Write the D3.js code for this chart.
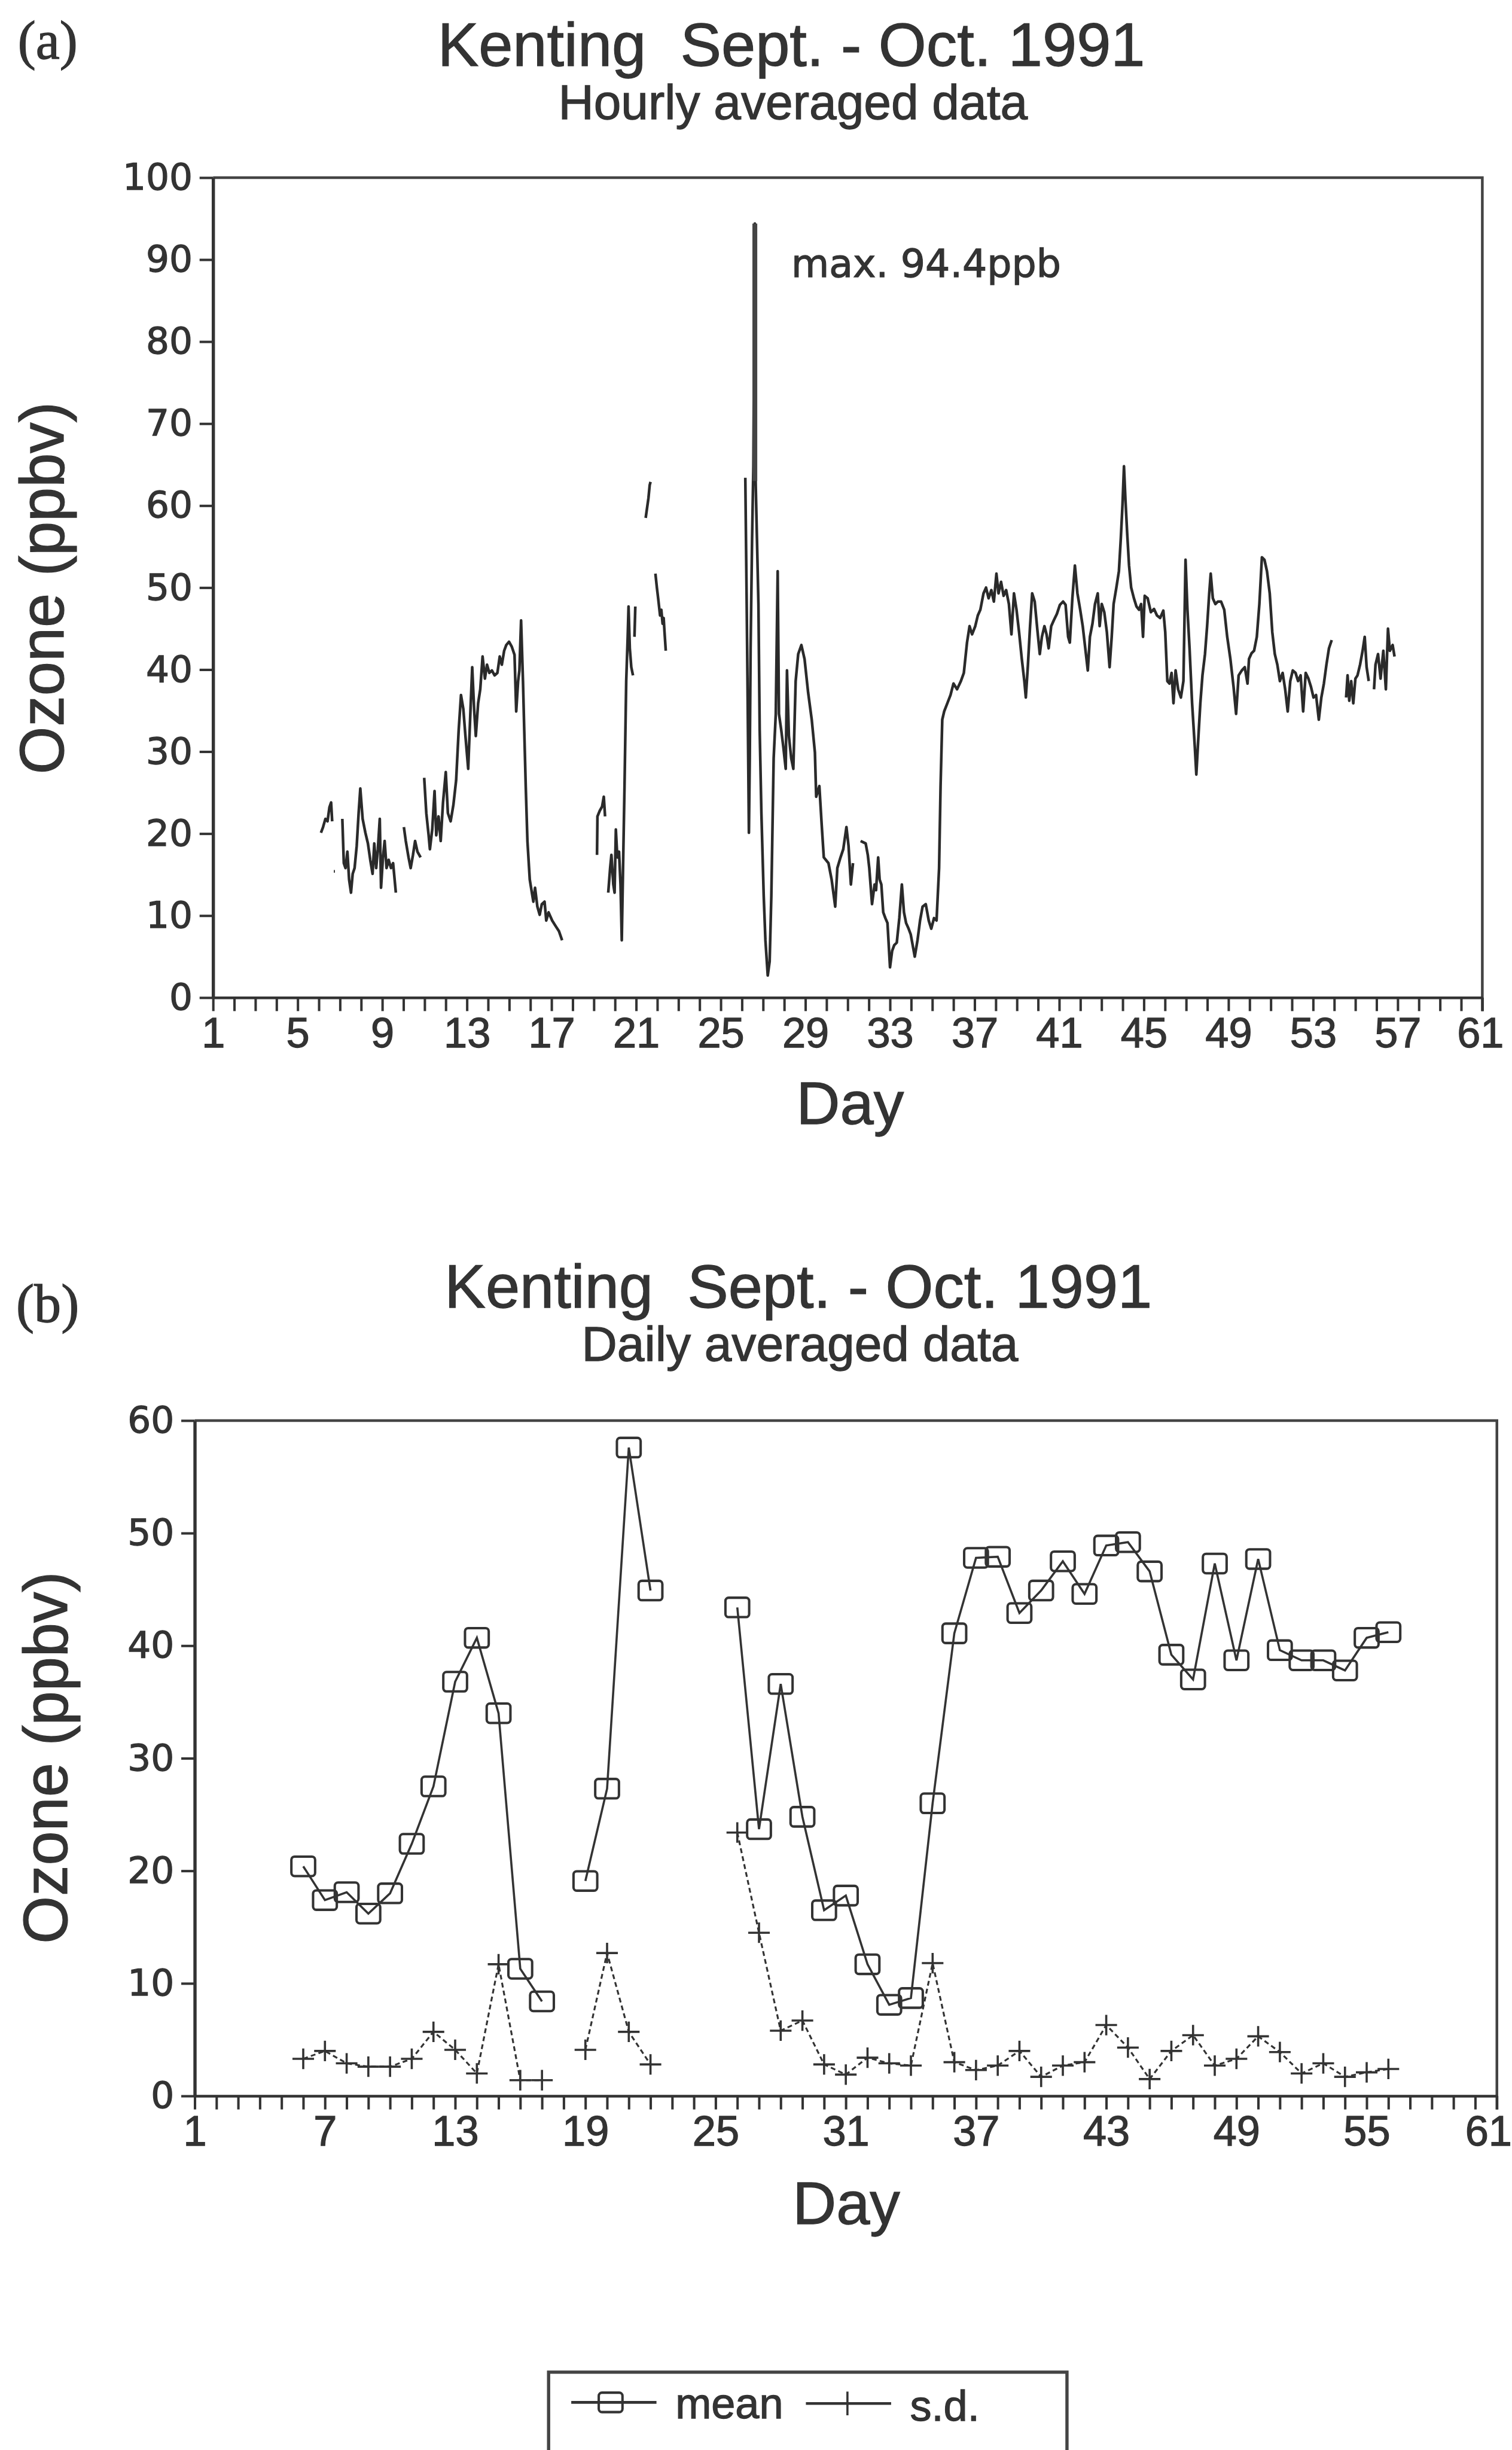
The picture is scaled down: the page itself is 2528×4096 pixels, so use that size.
<!DOCTYPE html>
<html>
<head>
<meta charset="utf-8">
<script src="https://cdn.jsdelivr.net/npm/d3@7"></script>
<style>
body{margin:0;background:#fff}
svg{display:block}
text{fill:#333;stroke:#333;stroke-width:1.4px}
</style>
</head>
<body>
<svg id="fig" width="2528" height="4096" viewBox="0 0 2803 4541"></svg>
<script>
// (a) hourly ozone, [day, ppbv]; null = break in the record
var hourly = [
 [6.10,20.1],[6.20,20.8],[6.31,21.8],[6.41,21.5],[6.50,23.2],[6.58,23.8],[6.63,21.5], null,
 [6.71,15.4],[6.76,15.4], null,
 [7.11,21.8],[7.18,16.4],[7.26,15.8],[7.35,17.8],[7.43,14.4],[7.52,12.8],[7.60,15.1],[7.69,15.8],[7.79,18.5],[7.88,22.5],
 [7.96,25.5],[8.07,21.8],[8.20,20.1],[8.32,18.8],[8.43,16.8],[8.54,15.1],[8.62,18.8],[8.71,15.8],[8.79,18.1],[8.88,21.8],
 [8.94,13.4],[9.03,17.1],[9.11,19.1],[9.20,15.8],[9.30,16.8],[9.41,15.8],[9.51,16.4],[9.64,12.8], null,
 [10.02,20.8],[10.11,19.1],[10.24,17.1],[10.34,15.8],[10.45,17.4],[10.55,19.1],[10.66,17.8],[10.81,17.1], null,
 [10.98,26.8],[11.08,22.5],[11.19,19.8],[11.25,18.1],[11.36,20.5],[11.47,25.2],[11.55,19.8],[11.66,22.1],[11.76,19.1],
 [11.87,23.8],[12.00,27.5],[12.10,22.5],[12.23,21.5],[12.36,23.5],[12.49,26.5],[12.61,32.6],[12.72,36.9],[12.83,35.2],
 [12.93,31.9],[13.06,27.9],[13.17,35.2],[13.25,40.3],[13.34,35.2],[13.42,31.9],[13.53,35.9],[13.63,37.6],[13.74,41.6],
 [13.85,38.9],[13.95,40.6],[14.06,39.6],[14.18,39.9],[14.31,39.3],[14.44,39.6],[14.55,41.6],[14.65,40.6],[14.76,42.3],
 [14.86,43.0],[14.99,43.4],[15.12,42.8],[15.25,41.8],[15.33,34.9],[15.42,38.6],[15.48,39.9],[15.56,46.0],[15.65,38.6],
 [15.71,32.6],[15.78,25.8],[15.86,19.1],[15.97,14.4],[16.07,12.8],[16.14,11.7],[16.22,13.4],[16.33,11.1],[16.44,10.1],
 [16.54,11.4],[16.67,11.7],[16.75,9.4],[16.86,10.4],[17.03,9.4],[17.20,8.7],[17.35,8.1],[17.50,7.0], null,
 [19.15,17.4],[19.17,22.1],[19.28,22.8],[19.39,23.3],[19.47,24.5],[19.53,22.1], null,
 [19.68,12.8],[19.77,15.8],[19.83,17.4],[19.92,13.8],[19.98,12.8],[20.04,20.5],[20.11,17.1],[20.19,17.8],[20.26,13.8],
 [20.32,7.0],[20.38,15.8],[20.45,25.8],[20.53,38.6],[20.60,44.0],[20.64,47.7],[20.70,42.6],[20.77,40.3],[20.85,39.3], null,
 [20.92,44.0],[20.96,47.7], null,
 [21.45,58.5],[21.52,59.8],[21.58,60.9],[21.64,62.5],[21.68,62.9], null,
 [21.91,51.7],[21.98,50.0],[22.04,48.7],[22.13,46.6],[22.19,47.3],[22.25,45.6],[22.30,46.3],[22.34,44.6],[22.40,42.3], null,
 [26.16,63.4],[26.22,49.3],[26.26,39.3],[26.33,20.1],[26.37,29.2],[26.41,42.6],[26.48,56.0],[26.54,64.8],[26.61,94.4],
 [26.65,62.8],[26.71,56.0],[26.78,48.0],[26.84,32.6],[26.92,22.5],[27.03,12.4],[27.11,7.0],[27.22,2.7],[27.31,4.4],
 [27.39,12.4],[27.50,29.2],[27.60,34.6],[27.69,52.0],[27.75,34.6],[27.86,32.6],[27.96,30.5],[28.07,27.9],[28.13,39.9],
 [28.22,31.9],[28.33,29.2],[28.43,27.9],[28.54,38.6],[28.66,41.9],[28.81,43.0],[28.96,41.3],[29.13,37.2],[29.30,33.9],
 [29.45,29.9],[29.51,24.5],[29.66,25.8],[29.77,21.1],[29.87,17.1],[30.09,16.4],[30.24,14.4],[30.41,11.1],[30.51,15.8],
 [30.66,17.1],[30.79,18.1],[30.94,20.8],[31.04,18.5],[31.15,13.8],[31.25,16.4], null,
 [31.61,19.1],[31.85,18.8],[31.95,17.4],[32.02,15.8],[32.15,11.4],[32.27,13.8],[32.34,13.1],[32.44,17.1],[32.51,14.4],
 [32.59,13.8],[32.68,10.4],[32.78,9.7],[32.88,9.1],[33.00,3.7],[33.10,5.7],[33.20,6.4],[33.32,6.7],[33.44,9.7],
 [33.56,13.8],[33.66,10.4],[33.76,9.1],[33.88,8.4],[33.98,7.7],[34.10,6.0],[34.17,5.0],[34.30,7.0],[34.42,9.4],
 [34.54,11.1],[34.69,11.4],[34.83,9.4],[34.95,8.4],[35.08,9.7],[35.20,9.4],[35.32,15.8],[35.39,25.8],[35.47,33.9],
 [35.56,34.9],[35.71,35.9],[35.86,36.9],[36.00,38.3],[36.17,37.6],[36.35,38.6],[36.49,39.6],[36.64,43.3],[36.76,45.3],
 [36.88,44.3],[37.03,45.3],[37.15,46.6],[37.27,47.3],[37.42,49.3],[37.54,50.0],[37.66,48.7],[37.79,49.7],[37.91,48.3],
 [38.03,51.7],[38.13,49.3],[38.25,50.7],[38.37,49.0],[38.49,49.7],[38.62,48.0],[38.74,44.3],[38.86,49.3],[38.98,47.3],
 [39.10,44.6],[39.23,41.3],[39.35,38.6],[39.42,36.6],[39.52,40.6],[39.62,45.3],[39.72,49.3],[39.84,48.3],[39.96,45.0],
 [40.08,41.9],[40.18,44.0],[40.30,45.3],[40.40,44.3],[40.50,42.6],[40.62,45.3],[40.74,46.0],[40.89,46.8],[41.03,47.9],
 [41.18,48.3],[41.30,47.9],[41.42,44.0],[41.50,43.3],[41.62,48.7],[41.74,52.7],[41.86,49.3],[41.99,47.3],[42.11,45.3],
 [42.23,42.6],[42.35,39.9],[42.45,44.0],[42.57,45.6],[42.69,48.0],[42.82,49.3],[42.91,45.3],[43.01,48.0],[43.13,47.0],
 [43.25,44.6],[43.38,40.3],[43.48,44.0],[43.57,48.0],[43.70,50.0],[43.82,52.0],[43.91,56.0],[43.99,60.1],[44.06,64.8],
 [44.13,60.7],[44.21,56.7],[44.30,52.7],[44.40,50.0],[44.53,48.7],[44.65,47.7],[44.77,47.3],[44.87,48.0],[44.96,44.0],
 [45.04,49.0],[45.18,48.7],[45.33,47.0],[45.48,47.4],[45.62,46.6],[45.77,46.3],[45.92,47.2],[46.01,44.6],[46.11,38.6],
 [46.21,38.3],[46.31,39.6],[46.40,35.9],[46.50,39.9],[46.62,37.6],[46.75,36.6],[46.87,38.6],[46.97,53.4],[47.06,47.3],
 [47.16,42.6],[47.28,35.9],[47.41,30.5],[47.48,27.2],[47.58,31.9],[47.67,35.9],[47.77,39.3],[47.89,41.9],[47.99,45.3],
 [48.09,49.3],[48.16,51.7],[48.26,48.7],[48.38,48.0],[48.50,48.3],[48.65,48.3],[48.80,47.3],[48.94,44.0],[49.09,41.3],
 [49.24,37.9],[49.36,34.6],[49.48,39.3],[49.63,39.9],[49.77,40.3],[49.90,38.3],[49.97,41.3],[50.09,42.0],[50.21,42.3],
 [50.34,44.0],[50.46,48.0],[50.58,53.7],[50.70,53.4],[50.82,52.0],[50.95,49.3],[51.07,44.6],[51.19,41.9],[51.31,40.6],
 [51.43,38.6],[51.56,39.6],[51.68,37.6],[51.80,34.9],[51.92,38.6],[52.04,39.9],[52.17,39.6],[52.29,38.6],[52.41,39.3],
 [52.53,34.9],[52.65,39.6],[52.78,38.9],[52.90,37.9],[53.02,36.6],[53.14,36.9],[53.27,33.9],[53.39,36.6],[53.51,38.3],
 [53.63,40.6],[53.75,42.6],[53.88,43.6], null,
 [54.56,36.6],[54.63,39.3],[54.71,36.2],[54.80,38.6],[54.90,35.9],[55.00,38.9],[55.10,39.3],[55.22,40.6],[55.34,42.3],
 [55.44,44.0],[55.53,40.3],[55.63,38.6], null,
 [55.88,37.6],[55.95,40.6],[56.07,41.9],[56.19,38.9],[56.32,42.3],[56.44,37.6],[56.54,45.0],[56.63,42.3],[56.76,43.0],
 [56.85,41.6]
];
var maxDay = 26.61, maxVal = 94.4, spikeBase = 63;

// (b) daily averages; null = no data that day
var days = [6,7,8,9,10,11,12,13,14,15,16,17,18,19,20,21,22,23,24,25,26,27,28,29,30,31,
            32,33,34,35,36,37,38,39,40,41,42,43,44,45,46,47,48,49,50,51,52,53,54,55,56];
var meanVals = [20.4,17.4,18.1,16.2,18.0,22.4,27.5,36.8,40.7,34.0,11.3,8.4,null,19.1,27.3,57.6,44.9,null,null,null,
                43.4,23.7,36.6,24.8,16.5,17.8,11.7,8.1,8.7,26.0,41.1,47.8,47.9,42.9,44.9,47.5,44.6,48.9,49.2,46.6,
                39.2,37.0,47.3,38.7,47.7,39.6,38.7,38.7,37.8,40.7,41.2];
var sdVals = [3.3,4.0,2.9,2.6,2.6,3.3,5.7,4.1,2.0,11.7,1.4,1.4,null,4.1,12.7,5.7,2.8,null,null,null,
              23.4,14.5,5.8,6.7,2.8,1.9,3.4,2.9,2.7,11.8,3.0,2.3,2.7,4.0,1.7,2.7,3.0,6.3,4.3,1.5,
              4.0,5.4,2.7,3.3,5.3,3.9,2.0,2.9,1.7,2.1,2.4];

var dayTicks = [1,2,3,4,5,6,7,8,9,10,11,12,13,14,15,16,17,18,19,20,21,22,23,24,25,26,27,28,29,30,31,
                32,33,34,35,36,37,38,39,40,41,42,43,44,45,46,47,48,49,50,51,52,53,54,55,56,57,58,59,60,61];
var dayLabelsA = [1,5,9,13,17,21,25,29,33,37,41,45,49,53,57,61];
var dayLabelsB = [1,7,13,19,25,31,37,43,49,55,61];
var ozoneTicksA = [0,10,20,30,40,50,60,70,80,90,100];
var ozoneTicksB = [0,10,20,30,40,50,60];

var ink = "#333";
var sans = "'Liberation Sans', Arial, Helvetica, sans-serif";
var wide = "'DejaVu Sans', Verdana, sans-serif";

var svg = d3.select("#fig");
svg.append("rect").attr("width", 2803).attr("height", 4541).attr("fill", "#fff");

function txt(x, y, s, size, fam, anchor) {
  return svg.append("text").attr("x", x).attr("y", y).text(s)
    .style("font-family", fam).style("font-size", size + "px")
    .style("white-space", "pre")
    .attr("text-anchor", anchor || "start");
}

function panel(p) {
  var g = svg.append("g");
  var x = d3.scaleLinear().domain([1, 61]).range([p.left, p.right]);
  var y = d3.scaleLinear().domain([0, p.ymax]).range([p.bottom, p.top]);

  // top and right edge of the box
  g.append("path")
    .attr("d", "M" + p.left + "," + p.top + "H" + p.right + "V" + (p.bottom + 25))
    .attr("fill", "none").attr("stroke", "#444").attr("stroke-width", 5);

  var xa = g.append("g").attr("transform", "translate(0," + p.bottom + ")")
    .call(d3.axisBottom(x).tickValues(dayTicks).tickSize(25).tickSizeOuter(0).tickPadding(12)
      .tickFormat(function(d) { return p.xLabels.indexOf(d) >= 0 ? d : ""; }));
  xa.select(".domain").attr("stroke", ink).attr("stroke-width", 5);
  xa.selectAll(".tick line").attr("stroke", ink).attr("stroke-width", 4.5);
  xa.selectAll("text").style("font-family", sans).style("font-size", "78px");
  // last label sits a little inside the edge in the scan
  xa.selectAll("text").filter(function(d) { return d === 61; }).attr("dx", p.lastShift);

  var ya = g.append("g").attr("transform", "translate(" + p.left + ",0)")
    .call(d3.axisLeft(y).tickValues(p.yTicks).tickSize(25).tickSizeOuter(0).tickPadding(13));
  ya.select(".domain").attr("stroke", ink).attr("stroke-width", 6);
  ya.selectAll(".tick line").attr("stroke", ink).attr("stroke-width", 4.5);
  ya.selectAll("text").style("font-family", wide).style("font-size", "68px");

  // titles
  txt(p.labelX, p.labelY, p.label, 100, "'Liberation Serif', 'Times New Roman', serif");
  txt(p.titleX, p.titleY, "Kenting  Sept. - Oct. 1991", 114, sans, "middle");
  txt(p.subX, p.subY, p.sub, 91, sans, "middle");
  txt(p.dayX, p.dayY, "Day", 112, sans, "middle");
  svg.append("text").attr("transform", "translate(" + p.ozX + "," + p.ozY + ") rotate(-90)")
    .attr("text-anchor", "middle").text("Ozone (ppbv)")
    .style("font-family", sans).style("font-size", "115px")
    .attr("textLength", 690).attr("lengthAdjust", "spacingAndGlyphs");

  return {g: g, x: x, y: y};
}

// ---- (a) hourly
var a = panel({left: 395, right: 2748, top: 329, bottom: 1849, ymax: 100,
  yTicks: ozoneTicksA, xLabels: dayLabelsA, lastShift: -4,
  label: "(a)", labelX: 33, labelY: 108,
  titleX: 1467, titleY: 122, sub: "Hourly averaged data", subX: 1470, subY: 220,
  dayX: 1576, dayY: 2083, ozX: 118, ozY: 1090});

a.g.append("path").datum(hourly)
  .attr("d", d3.line().defined(function(d) { return d; })
    .x(function(d) { return a.x(d[0]); }).y(function(d) { return a.y(d[1]); }))
  .attr("fill", "none").attr("stroke", "#2a2a2a").attr("stroke-width", 5)
  .attr("stroke-linejoin", "round");

// the 94.4 ppb hour is drawn heavier in the original
a.g.append("line")
  .attr("x1", a.x(maxDay)).attr("x2", a.x(maxDay))
  .attr("y1", a.y(maxVal)).attr("y2", a.y(spikeBase))
  .attr("stroke", "#444").attr("stroke-width", 9);

txt(1467, 513, "max. " + maxVal + "ppb", 72, wide);

// ---- (b) daily
var b = panel({left: 361, right: 2775, top: 2633, bottom: 3885, ymax: 60,
  yTicks: ozoneTicksB, xLabels: dayLabelsB, lastShift: -16,
  label: "(b)", labelX: 30, labelY: 2450,
  titleX: 1480, titleY: 2423, sub: "Daily averaged data", subX: 1483, subY: 2522,
  dayX: 1569, dayY: 4122, ozX: 124, ozY: 3258});

var meanPts = days.map(function(d, i) { return {day: d, v: meanVals[i]}; });
var sdPts = days.map(function(d, i) { return {day: d, v: sdVals[i]}; });

var dline = d3.line().defined(function(d) { return d.v != null; })
  .x(function(d) { return b.x(d.day); }).y(function(d) { return b.y(d.v); });

b.g.append("path").datum(sdPts).attr("d", dline)
  .attr("fill", "none").attr("stroke", ink).attr("stroke-width", 3.5)
  .attr("stroke-dasharray", "9 6");
b.g.append("path").datum(meanPts).attr("d", dline)
  .attr("fill", "none").attr("stroke", ink).attr("stroke-width", 4);

function square(sel) {
  sel.append("rect").attr("x", -22).attr("y", -18).attr("width", 44).attr("height", 36)
    .attr("rx", 6).attr("fill", "none").attr("stroke", ink).attr("stroke-width", 4.5);
}
function plus(sel) {
  sel.append("path").attr("d", "M-20,0H20M0,-19V19")
    .attr("fill", "none").attr("stroke", ink).attr("stroke-width", 4);
}

b.g.selectAll(".mk-mean").data(meanPts.filter(function(d) { return d.v != null; }))
  .enter().append("g").attr("class", "mk-mean")
  .attr("transform", function(d) { return "translate(" + b.x(d.day) + "," + b.y(d.v) + ")"; })
  .call(square);
b.g.selectAll(".mk-sd").data(sdPts.filter(function(d) { return d.v != null; }))
  .enter().append("g").attr("class", "mk-sd")
  .attr("transform", function(d) { return "translate(" + b.x(d.day) + "," + b.y(d.v) + ")"; })
  .call(plus);

// ---- legend (box runs off the bottom edge as in the scan)
var lg = svg.append("g");
lg.append("rect").attr("x", 1017).attr("y", 4397).attr("width", 961).attr("height", 220)
  .attr("fill", "none").attr("stroke", "#444").attr("stroke-width", 6);
lg.append("line").attr("x1", 1059).attr("x2", 1217).attr("y1", 4453).attr("y2", 4453)
  .attr("stroke", ink).attr("stroke-width", 5);
lg.append("g").attr("transform", "translate(1132,4453)").call(square);
txt(1252, 4483, "mean", 80, sans);
lg.append("line").attr("x1", 1494).attr("x2", 1652).attr("y1", 4455).attr("y2", 4455)
  .attr("stroke", ink).attr("stroke-width", 5);
lg.append("line").attr("x1", 1571).attr("x2", 1571).attr("y1", 4433).attr("y2", 4477)
  .attr("stroke", ink).attr("stroke-width", 4);
txt(1687, 4487, "s.d.", 80, sans);
</script>
</body>
</html>
